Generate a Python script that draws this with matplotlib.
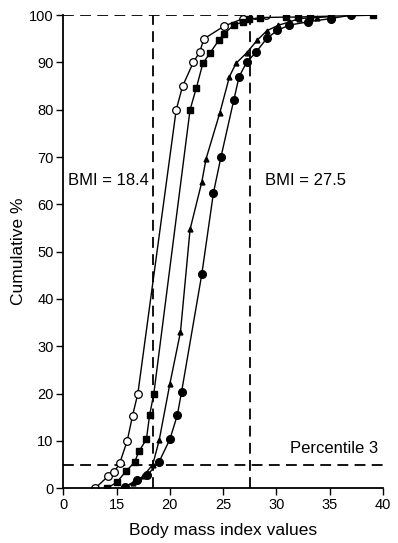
import matplotlib
matplotlib.use("Agg")
import matplotlib.pyplot as plt

plt.rcParams['font.family'] = ['Liberation Sans', 'DejaVu Sans']

# open circles
bmi_a = [13.0, 14.2, 14.8, 15.3, 16.0, 16.5, 17.0, 20.6, 21.2, 22.2, 22.8, 23.2, 25.1, 26.9, 28.0, 29.0]
cum_a = [0, 2.5, 3.5, 5.3, 10, 15.3, 20, 80, 85, 90, 92.2, 95, 97.7, 99.3, 100, 100]

# filled squares
bmi_b = [14.1, 15.0, 15.9, 16.7, 17.1, 17.8, 18.1, 18.5, 21.9, 22.5, 23.1, 23.8, 24.6, 25.1, 26.0, 26.9,
         27.4, 28.5, 30.9, 32.0, 33.2, 35.1, 39.1]
cum_b = [0, 1.2, 3.6, 5.5, 7.8, 10.3, 15.4, 20, 80, 84.7, 89.8, 92.1, 94.7, 96.1, 97.9, 98.6,
         99.1, 99.5, 99.6, 99.6, 99.7, 99.8, 100]

# triangles
bmi_c = [15.5, 16.5, 17.5, 18.4, 19.0, 20.0, 21.0, 21.9, 23.0, 23.4, 24.7, 25.6, 26.2, 27.2, 28.2, 29.1,
         30.2, 31.3, 32.1, 33.8, 35.1]
cum_c = [0, 1.0, 2.5, 5.0, 10.1, 22, 33, 54.7, 64.7, 69.6, 79.4, 87, 89.8, 92, 94.7, 96.7,
         97.9, 98.6, 99.3, 99.5, 99.7]

# filled circles
bmi_d = [15.8, 16.9, 17.9, 19.0, 20.0, 20.7, 21.1, 23.0, 24.1, 24.8, 26.0, 26.5, 27.2, 28.1, 29.1, 30.1,
         31.2, 33.0, 35.1, 37.0]
cum_d = [0.3, 1.7, 2.8, 5.6, 10.3, 15.4, 20.3, 45.2, 62.5, 70, 82, 87, 90, 92.2, 95.1, 96.8,
         97.9, 98.6, 99.3, 100]

xticks = [10, 15, 20, 25, 30, 35, 40]
xticklabels = ["0", "15", "20", "25", "30", "35", "40"]
yticks = list(range(0, 101, 10))

fig = plt.figure(figsize=(3.98, 5.43), dpi=100)
ax = fig.add_axes([0.159, 0.101, 0.803, 0.871])

dash = (0, (6, 3.5))
ax.plot([18.4, 18.4], [0, 100], color='black', lw=1.3, linestyle=dash)
ax.plot([27.5, 27.5], [0, 100], color='black', lw=1.3, linestyle=dash)
ax.plot([10, 40], [5, 5], color='black', lw=1.3, linestyle=dash)
ax.plot([10, 27.5], [100, 100], color='black', lw=1.3, linestyle=dash)

ax.plot(bmi_a, cum_a, color='black', lw=1, marker='o', ms=5.5, mfc='white', mec='black', mew=0.9)
ax.plot(bmi_b, cum_b, color='black', lw=1, marker='s', ms=5, mfc='black', mec='black')
ax.plot(bmi_c, cum_c, color='black', lw=1, marker='^', ms=3.5, mfc='black', mec='black')
ax.plot(bmi_d, cum_d, color='black', lw=1, marker='o', ms=5.5, mfc='black', mec='black')

ax.text(10.4, 65, "BMI = 18.4", fontsize=12, va='center', ha='left')
ax.text(28.9, 65, "BMI = 27.5", fontsize=12, va='center', ha='left')
ax.text(39.6, 8.3, "Percentile 3", fontsize=12, va='center', ha='right')

ax.set_xlim(10, 40)
ax.set_ylim(0, 100)
ax.set_xticks(xticks)
ax.set_xticklabels(xticklabels)
ax.set_yticks(yticks)
ax.tick_params(direction='out', length=5, width=1, labelsize=10.5, pad=2)
ax.spines['top'].set_visible(False)
ax.spines['right'].set_visible(False)
ax.spines['left'].set_linewidth(1.3)
ax.spines['bottom'].set_linewidth(1.3)
ax.set_xlabel("Body mass index values", fontsize=12.5, labelpad=8)
ax.set_ylabel("Cumulative %", fontsize=12.5, labelpad=2)

plt.savefig("out.png", dpi=100)
